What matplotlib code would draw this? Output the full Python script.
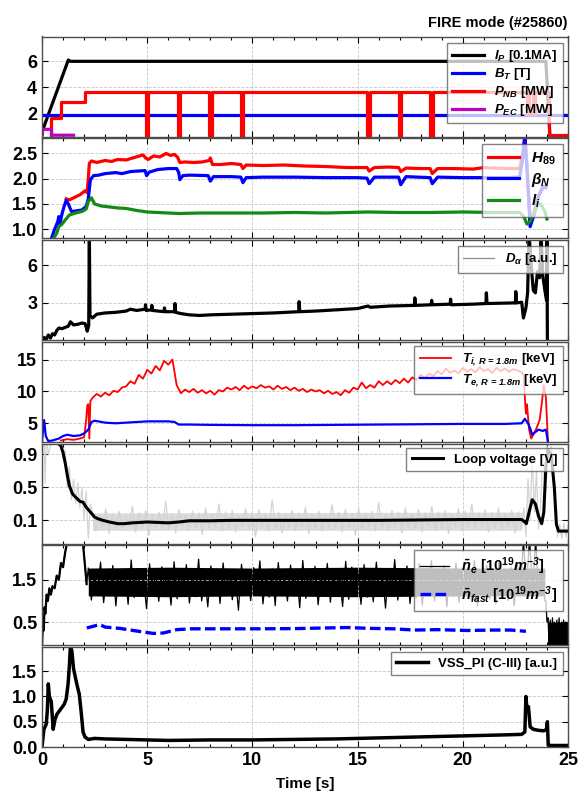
import numpy as np
import matplotlib
matplotlib.use("Agg")
import matplotlib.pyplot as plt
from matplotlib.lines import Line2D
from matplotlib.ticker import MultipleLocator, FormatStrFormatter

plt.rcParams["font.family"] = ["Liberation Sans", "DejaVu Sans"]
plt.rcParams["mathtext.fontset"] = "custom"
plt.rcParams["mathtext.rm"] = "Liberation Sans"
plt.rcParams["mathtext.it"] = "Liberation Sans:italic"
plt.rcParams["mathtext.bf"] = "Liberation Sans:bold"
plt.rcParams["mathtext.bfit"] = "Liberation Sans:italic:bold"

# ---- panel 1: plasma current, field, heating (time [s], value) ----
IP = [(0.0, 0.6), (1.25, 6.1), (1.35, 6.0), (5, 6.0), (10, 6.0), (15, 6.0),
      (20, 6.0), (23.95, 6.0), (24.05, 3.0), (24.15, 0.0)]
BT = [(0.0, 1.92), (25.0, 1.92)]
NB_T = [0.0, 0.44, 0.92, 2.04, 4.93, 5.05, 6.45, 6.57, 7.95, 8.07, 9.45, 9.57,
        15.45, 15.57, 16.95, 17.07, 18.45, 18.57, 23.05, 23.15, 23.35, 23.45,
        24.08, 25.0]
NB_V = [0.0, 1.65, 2.9, 3.62, 0.0, 3.62, 0.0, 3.62, 0.0, 3.62, 0.0, 3.62,
        0.0, 3.62, 0.0, 3.62, 0.0, 3.62, 2.0, 3.62, 2.0, 3.62, 0.35, 0.35]
EC = [(0.0, 0.35), (0.02, 0.35), (0.03, 0.8), (0.45, 0.8), (0.46, 0.35),
      (1.5, 0.35)]

# ---- panel 2: H89, beta_N, l_i ----
H89 = [(1.15, 1.6), (1.3, 1.58), (1.5, 1.62), (1.8, 1.68), (2.05, 1.76),
       (2.15, 1.72), (2.25, 2.3), (2.35, 2.35), (2.6, 2.32), (3.0, 2.36),
       (3.3, 2.34), (3.6, 2.38), (4.0, 2.37), (4.4, 2.42), (4.8, 2.47),
       (4.95, 2.4), (5.05, 2.38), (5.3, 2.45), (5.6, 2.43), (5.9, 2.5),
       (6.1, 2.46), (6.3, 2.48), (6.45, 2.42), (6.55, 2.32), (6.8, 2.33),
       (7.2, 2.32), (7.6, 2.33), (7.95, 2.36), (8.0, 2.41), (8.1, 2.28),
       (8.5, 2.28), (9.0, 2.3), (9.45, 2.28), (9.55, 2.2), (9.7, 2.27),
       (10.5, 2.26), (11.5, 2.27), (12.5, 2.25), (13.5, 2.24), (14.5, 2.22),
       (15.45, 2.22), (15.55, 2.15), (15.8, 2.22), (16.5, 2.23), (16.95, 2.22),
       (17.05, 2.14), (17.3, 2.21), (18.0, 2.2), (18.45, 2.2), (18.55, 2.1),
       (18.8, 2.2), (19.5, 2.2), (20.5, 2.19), (21.0, 2.22), (22.0, 2.2),
       (22.7, 2.2), (22.85, 2.5), (22.95, 2.85), (23.05, 2.3), (23.2, 1.15),
       (23.35, 1.3), (23.6, 1.65), (23.8, 1.8), (23.95, 1.85)]
BETA_N = [(0.45, 0.82), (0.6, 1.0), (0.75, 1.15), (0.8, 1.25), (0.85, 1.1),
          (0.95, 1.3), (1.05, 1.45), (1.15, 1.57), (1.25, 1.5), (1.4, 1.35),
          (1.6, 1.36), (1.9, 1.38), (2.1, 1.45), (2.2, 1.6), (2.3, 1.98),
          (2.45, 2.06), (2.7, 2.07), (3.0, 2.1), (3.5, 2.12), (3.8, 2.1),
          (4.2, 2.14), (4.9, 2.16), (4.97, 2.06), (5.1, 2.13), (5.5, 2.18),
          (6.0, 2.2), (6.4, 2.2), (6.5, 2.12), (6.55, 1.98), (6.7, 2.06),
          (7.0, 2.07), (7.9, 2.06), (8.0, 1.95), (8.15, 2.04), (9.0, 2.04),
          (9.45, 2.03), (9.55, 1.92), (9.7, 2.02), (10.5, 2.03), (12.0, 2.03),
          (13.5, 2.02), (15.0, 2.02), (15.45, 2.01), (15.55, 1.9), (15.8, 2.03),
          (16.95, 2.03), (17.05, 1.88), (17.3, 2.04), (18.45, 2.02),
          (18.55, 1.9), (18.8, 2.03), (20.0, 2.02), (22.0, 2.02), (22.7, 2.03),
          (22.85, 2.4), (22.95, 2.85), (23.05, 2.2), (23.2, 1.05), (23.4, 1.3),
          (23.6, 1.65), (23.8, 1.85), (23.95, 1.82)]
LI = [(0.55, 0.82), (0.7, 0.92), (0.8, 1.05), (0.95, 1.1), (1.1, 1.18),
      (1.3, 1.28), (1.6, 1.32), (1.9, 1.35), (2.1, 1.4), (2.2, 1.55),
      (2.35, 1.62), (2.5, 1.5), (2.8, 1.46), (3.2, 1.44), (3.6, 1.42),
      (4.0, 1.41), (4.5, 1.37), (5.0, 1.34), (5.5, 1.33), (6.5, 1.31),
      (7.5, 1.32), (9.0, 1.32), (10.5, 1.32), (12.0, 1.33), (13.5, 1.32),
      (15.5, 1.34), (17.0, 1.33), (18.5, 1.33), (20.0, 1.34), (21.5, 1.33),
      (22.7, 1.33), (22.9, 1.25), (23.05, 1.1), (23.2, 1.15), (23.5, 1.45),
      (23.7, 1.5), (23.9, 1.35), (24.0, 1.2)]

# ---- panel 3: D_alpha ----
DALPHA = [(0.0, 0.1), (0.1, 0.25), (0.18, 0.05), (0.3, 0.45), (0.4, 0.2),
          (0.5, 0.55), (0.6, 0.45), (0.7, 0.8), (0.8, 1.0), (0.95, 0.95),
          (1.1, 1.05), (1.25, 1.15), (1.35, 1.5), (1.5, 1.25), (1.7, 1.3),
          (1.9, 1.4), (2.05, 1.35), (2.15, 0.75), (2.22, 1.2), (2.25, 8.5),
          (2.28, 2.0), (2.4, 1.8), (2.6, 2.1), (3.0, 2.2), (3.5, 2.25),
          (4.0, 2.35), (4.2, 2.5), (4.5, 2.4), (4.9, 2.5), (4.92, 2.85),
          (4.95, 2.4), (5.2, 2.45), (5.22, 2.8), (5.25, 2.4), (5.8, 2.3),
          (5.82, 2.6), (5.85, 2.3), (6.3, 2.3), (6.32, 2.95), (6.35, 2.25),
          (6.6, 2.15), (7.0, 2.05), (7.5, 2.0), (8.0, 2.05), (9.0, 2.1),
          (10.0, 2.15), (11.0, 2.2), (12.2, 2.3), (12.22, 3.1), (12.25, 2.3),
          (13.0, 2.35), (14.0, 2.45), (15.0, 2.55), (15.5, 2.75), (15.6, 2.65),
          (16.5, 2.75), (17.7, 2.8), (17.72, 3.4), (17.75, 2.8), (18.5, 2.85),
          (18.52, 3.2), (18.55, 2.85), (19.4, 2.9), (19.42, 3.3), (19.45, 2.85),
          (20.5, 2.9), (21.1, 2.95), (21.12, 3.8), (21.15, 2.95), (22.5, 3.0),
          (22.52, 3.9), (22.55, 3.0), (22.8, 3.05), (22.88, 1.8), (23.0, 2.6),
          (23.08, 3.8), (23.15, 8.5), (23.25, 6.0), (23.35, 4.0), (23.45, 3.8),
          (23.55, 5.5), (23.65, 5.0), (23.72, 8.5), (23.8, 5.2), (23.9, 4.0),
          (23.98, 3.2), (24.0, 8.5), (24.02, 0.0)]

# ---- panel 4: ion / electron temperature ----
TI_PRE = [(0.9, 2.3), (1.2, 2.5), (1.5, 2.4), (1.8, 2.6), (2.0, 2.8),
          (2.1, 5.5), (2.15, 7.8), (2.2, 8.0), (2.25, 2.6), (2.3, 8.5)]
TI_MID = [9.0, 9.6, 9.2, 9.8, 9.4, 10.1, 9.9, 10.6, 10.8, 11.6,
          11.2, 12.6, 12.0, 13.4, 12.8, 14.0, 13.3, 14.8, 14.2, 15.0,
          11.0, 9.7, 10.3, 9.9, 10.4, 9.8, 10.2, 9.7, 10.1, 9.5,
          10.2, 10.0, 10.6, 10.3, 10.7, 10.2, 10.9, 10.4, 10.8, 10.5,
          11.0, 10.6, 10.8, 10.3, 10.9, 10.4, 10.7, 10.2, 10.6, 10.1,
          10.4, 9.9, 10.3, 10.0, 10.2, 9.7, 10.1, 9.6, 9.9, 9.4,
          10.2, 9.8, 10.6, 10.3, 11.4, 10.5, 11.0, 10.6, 11.6, 11.0,
          11.6, 11.1, 11.8, 11.3, 12.0, 11.4, 12.2, 11.8, 12.6, 12.1,
          12.8, 12.4, 13.2, 12.7, 13.6, 12.9, 13.3, 12.8, 13.7, 13.1,
          13.5, 13.0, 13.8, 13.2, 13.5, 12.9, 13.7, 13.2, 13.6, 13.1,
          13.5, 13.3, 13.0]
TI_END = [(22.9, 12.5), (22.95, 9.0), (23.0, 6.5), (23.05, 8.0), (23.15, 4.0),
          (23.25, 2.6), (23.35, 3.2), (23.5, 4.2), (23.65, 5.5), (23.75, 8.0),
          (23.85, 11.0), (23.95, 9.0), (24.05, 2.0)]
TE = [(0.0, 2.2), (0.1, 5.5), (0.18, 3.0), (0.3, 2.2), (0.5, 2.3), (0.8, 2.6),
      (1.0, 3.0), (1.2, 3.2), (1.5, 3.0), (1.8, 3.1), (2.0, 3.4), (2.2, 4.0),
      (2.35, 5.2), (2.5, 5.4), (3.0, 5.1), (3.5, 5.0), (4.0, 5.1), (4.5, 5.2),
      (5.0, 5.3), (6.0, 5.3), (6.3, 5.2), (6.5, 4.8), (7.0, 4.8), (8.0, 4.75),
      (10.0, 4.7), (12.0, 4.7), (14.0, 4.75), (16.0, 4.8), (18.0, 4.85),
      (20.0, 4.9), (22.0, 4.9), (22.8, 5.0), (22.95, 5.7), (23.1, 5.0),
      (23.2, 4.2), (23.3, 3.2), (23.4, 3.5), (23.6, 4.0), (23.8, 3.8),
      (23.95, 4.0), (24.05, 2.0)]

# ---- panel 5: loop voltage (smoothed and raw) ----
LV = [(0.0, 1.1), (0.5, 1.1), (0.9, 1.0), (1.0, 0.92), (1.1, 0.8), (1.2, 0.65),
      (1.3, 0.52), (1.45, 0.42), (1.6, 0.38), (1.8, 0.33), (1.95, 0.32),
      (2.1, 0.26), (2.3, 0.2), (2.5, 0.14), (2.65, 0.12), (2.9, 0.1),
      (3.2, 0.08), (3.6, 0.06), (3.9, 0.06), (4.3, 0.07), (5.0, 0.08),
      (6.0, 0.07), (6.5, 0.08), (7.0, 0.095), (8.0, 0.095), (9.0, 0.1),
      (12.0, 0.1), (16.0, 0.1), (18.0, 0.105), (20.0, 0.11), (22.8, 0.11),
      (22.95, 0.08), (23.02, 0.06), (23.15, 0.2), (23.3, 0.35), (23.45, 0.3),
      (23.6, 0.15), (23.75, 0.06), (23.85, 0.2), (23.95, 0.75), (24.05, 0.95),
      (24.2, 0.9), (24.35, 0.5), (24.45, 0.05), (24.55, -0.03), (25.0, -0.03)]
LV_RAW_PRE = [(0.0, 1.1), (0.1, 1.1), (0.15, 0.55), (0.2, 1.1), (0.3, 0.9),
              (0.5, 1.1), (0.7, 1.05), (0.9, 1.1), (1.0, 0.85), (1.1, 0.95),
              (1.2, 0.5), (1.3, 0.75), (1.4, 0.35), (1.5, 0.6), (1.6, 0.3),
              (1.7, 0.55), (1.8, 0.25), (1.9, 0.5), (2.0, 0.1), (2.1, 0.45),
              (2.2, -0.12), (2.3, 0.3)]
LV_RAW_MID = [0.2, -0.03, 0.16, 0.02, 0.24, -0.06, 0.18, 0.0, 0.21, -0.02,
              0.15, 0.03, 0.27, -0.04, 0.19, 0.01, 0.22, -0.08, 0.17, 0.02,
              0.2, -0.01, 0.33, 0.0, 0.18, -0.05, 0.23, 0.03, 0.16, -0.02,
              0.21, 0.01, 0.19, -0.07, 0.25, 0.0, 0.17, 0.02, 0.3, -0.03,
              0.2, 0.0, 0.22, -0.04, 0.16, 0.03, 0.24, -0.01, 0.19, -0.1,
              0.23, 0.02, 0.18, -0.03, 0.35, 0.0, 0.2, -0.05, 0.17, 0.01,
              0.22, -0.02, 0.19, 0.03, 0.26, -0.06, 0.18, 0.0, 0.21, -0.03,
              0.16, 0.02, 0.29, -0.01, 0.2, -0.04, 0.23, 0.01, 0.18, -0.08,
              0.24, 0.0, 0.19, 0.03, 0.21, -0.03, 0.32, 0.0, 0.17, -0.02,
              0.22, 0.02, 0.2, -0.05, 0.25, 0.01, 0.18, -0.01, 0.23, -0.04,
              0.19, 0.03, 0.27, -0.02, 0.2, 0.0, 0.22, -0.06, 0.18, 0.02,
              0.24, -0.03, 0.21, 0.01, 0.3, -0.01, 0.19, 0.02, 0.23, -0.04,
              0.2, 0.0, 0.25, -0.02, 0.18, 0.03, 0.22, -0.05, 0.2, 0.01]
LV_RAW_END = [(22.9, 0.25), (23.0, -0.1), (23.1, 0.6), (23.2, 0.1), (23.3, 0.9),
              (23.4, 0.2), (23.5, 0.7), (23.6, 0.0), (23.7, 0.3), (23.8, 0.9),
              (23.9, 0.5), (24.0, 1.0), (24.1, 0.8), (24.2, 1.0), (24.3, 0.6),
              (24.4, 0.2), (24.5, -0.1), (24.6, 0.05), (24.7, -0.12),
              (24.8, 0.06), (24.9, -0.1), (25.0, 0.04)]

# ---- panel 6: line-averaged density and fast-ion density ----
NE_PRE = [(0.0, -0.05), (0.05, 0.55), (0.08, 0.3), (0.12, 0.85), (0.16, 0.7),
          (0.22, 1.15), (0.28, 1.0), (0.35, 1.3), (0.42, 1.15), (0.5, 1.35),
          (0.6, 1.3), (0.7, 1.6), (0.8, 1.5), (0.9, 1.9), (1.0, 1.8),
          (1.1, 2.15), (1.2, 2.4), (1.4, 2.5), (1.6, 2.45), (1.8, 2.5),
          (1.95, 2.35), (2.05, 1.8), (2.12, 1.4)]
NE_MID = [1.78, 1.02, 1.65, 1.21, 1.92, 0.96, 1.58, 1.12, 1.84, 0.88,
          1.7, 1.25, 1.62, 0.92, 1.97, 1.08, 1.74, 1.18, 1.55, 0.82,
          1.88, 1.15, 1.69, 0.99, 1.81, 1.27, 1.6, 0.9, 1.93, 1.05,
          1.72, 1.2, 1.86, 0.95, 1.64, 1.1, 1.99, 1.0, 1.57, 0.86,
          1.83, 1.22, 1.68, 0.94, 1.9, 1.13, 1.75, 1.03, 1.61, 0.78,
          1.87, 1.17, 1.66, 1.01, 1.79, 1.24, 1.95, 0.93, 1.63, 1.09,
          1.76, 0.89, 1.91, 1.14, 1.59, 1.0, 1.85, 1.19, 1.71, 0.84,
          1.96, 1.06, 1.67, 1.23, 1.82, 0.91, 1.6, 1.11, 1.89, 0.97,
          1.73, 1.16, 1.58, 0.87, 1.94, 1.04, 1.8, 1.21, 1.66, 0.92,
          1.86, 1.09, 1.7, 0.98, 1.92, 1.18, 1.62, 0.83, 1.77, 1.12,
          1.98, 1.02, 1.64, 1.26, 1.83, 0.94, 1.69, 1.07, 1.88, 0.9,
          1.74, 1.15, 1.95, 1.0, 1.61, 1.2, 1.84, 0.86, 1.72, 1.1,
          1.9, 0.96, 1.67, 1.13, 1.8, 1.03, 1.97, 0.88, 1.63, 1.19,
          1.85, 1.05, 1.71, 0.93, 1.93, 1.16, 1.6, 1.01, 1.79, 0.89,
          1.87, 1.12, 2.45, 1.3, 2.5, 1.2, 2.45, 1.1, 1.75, 1.0]
NE_CORE_T = [2.2, 6.0, 10.0, 15.0, 20.0, 23.9]
NE_CORE_LO = [1.12, 1.1, 1.12, 1.1, 1.12, 1.12]
NE_CORE_HI = [1.78, 1.8, 1.78, 1.8, 1.78, 1.78]
NE_TAIL = [0.6, -0.05, 0.55, 0.1, 0.6, -0.05, 0.5, 0.15, 0.55, -0.05,
           0.6, 0.1, 0.5, -0.05, 0.55, 0.15, 0.5, -0.05, 0.45]
NFAST = [(2.13, 0.36), (2.75, 0.44), (3.0, 0.38), (3.7, 0.35), (4.6, 0.28),
         (5.3, 0.23), (5.76, 0.24), (6.4, 0.32), (7.1, 0.34), (8.5, 0.34),
         (10.3, 0.34), (12.1, 0.345), (13.5, 0.36), (14.5, 0.37), (15.6, 0.35),
         (16.7, 0.34), (17.7, 0.31), (18.8, 0.32), (20.2, 0.30), (21.5, 0.31),
         (22.3, 0.31), (23.0, 0.28)]

# ---- panel 7: C-III line emission ----
VSS = [(0.0, 0.0), (0.09, 0.35), (0.2, 0.45), (0.25, 0.7), (0.3, 1.25),
       (0.35, 1.0), (0.44, 0.9), (0.53, 0.35), (0.62, 0.55), (0.71, 0.65),
       (0.89, 0.75), (1.06, 0.85), (1.15, 0.95), (1.24, 1.25), (1.3, 1.6),
       (1.35, 2.0), (1.42, 1.9), (1.5, 1.55), (1.6, 1.35), (1.68, 1.2),
       (1.77, 1.05), (1.86, 0.7), (1.95, 0.3), (2.04, 0.2), (2.2, 0.15),
       (2.5, 0.17), (3.0, 0.16), (4.0, 0.15), (5.0, 0.14), (6.0, 0.13),
       (8.0, 0.14), (10.0, 0.14), (12.0, 0.15), (14.0, 0.16), (16.0, 0.18),
       (18.0, 0.2), (20.0, 0.22), (22.0, 0.24), (22.8, 0.25), (22.95, 0.3),
       (23.0, 1.0), (23.05, 0.75), (23.12, 0.8), (23.2, 0.4), (23.35, 0.35),
       (23.6, 0.33), (23.85, 0.32), (23.98, 0.35), (24.02, 0.5), (24.06, 0.04),
       (24.2, 0.03), (25.0, 0.03)]

YTICKS = [[2, 4, 6], [1.0, 1.5, 2.0, 2.5], [3, 6], [5, 10, 15],
          [0.1, 0.5, 0.9], [0.5, 1.5], [0.0, 0.5, 1.0, 1.5]]
YLIMS = [(0.25, 7.9), (0.82, 2.8), (0.05, 8.0), (2.1, 17.8),
         (-0.18, 1.03), (-0.05, 2.32), (0.0, 1.98)]


def xy(points):
    arr = np.array(points, dtype=float)
    return arr[:, 0], arr[:, 1]


def make_legend(ax, top, size=9.5, **kw):
    leg = ax.legend(loc="upper right", bbox_to_anchor=(0.99, top),
                    borderaxespad=0, fancybox=False, framealpha=0.75,
                    edgecolor="0.35", prop={"size": size, "weight": "bold"},
                    **kw)
    leg.get_frame().set_linewidth(1.0)
    return leg


fig = plt.figure(figsize=(5.82, 7.93), dpi=100)
axes = []
for i in range(7):
    top_px = 36.5 + i * 101.75
    ax = fig.add_axes([42 / 582, 1 - (top_px + 100) / 793, 526 / 582, 100 / 793])
    axes.append(ax)

red, blue, green = "#ff0000", "#0000ff", "#138a13"

# panel 1
ax = axes[0]
ax.plot(*xy(IP), color="k", lw=2.3, label=r"$\mathbfit{I_P}$ [0.1MA]")
ax.plot(*xy(BT), color=blue, lw=2.3, label=r"$\mathbfit{B_T}$ [T]")
ax.plot(NB_T, NB_V, color=red, lw=2.3, drawstyle="steps-post",
        label=r"$\mathbfit{P_{NB}}$ [MW]")
ax.plot(*xy(EC), color="#bf00bf", lw=2.3, label=r"$\mathbfit{P_{EC}}$ [MW]")
ax.set_title("FIRE mode (#25860)", loc="right", fontsize=10.5,
             fontweight="bold", pad=7)
make_legend(ax, 0.935, size=9.5, handlelength=2.4, labelspacing=0.15)

# panel 2
ax = axes[1]
ax.plot(*xy(H89), color=red, lw=2.3, label=r"$\mathbfit{H}_{\mathbf{89}}$")
ax.plot(*xy(BETA_N), color=blue, lw=2.3, label=r"$\mathbfit{\beta_N}$")
ax.plot(*xy(LI), color=green, lw=2.3, label=r"$\mathbfit{l_i}$")
make_legend(ax, 0.945, size=11, handlelength=2.0, labelspacing=0.25,
            borderpad=0.45)

# panel 3
ax = axes[2]
ax.plot(*xy(DALPHA), color="k", lw=2.3)
make_legend(ax, 0.94, size=9.5, handlelength=2.4,
            handles=[Line2D([], [], color="0.55", lw=0.9)],
            labels=[r"$\mathbfit{D_\alpha}$ [a.u.]"])

# panel 4
ax = axes[3]
ti_pre_t, ti_pre_v = xy(TI_PRE)
ti_end_t, ti_end_v = xy(TI_END)
ti_t = np.concatenate([ti_pre_t, np.linspace(2.4, 22.8, len(TI_MID)), ti_end_t])
ti_v = np.concatenate([ti_pre_v, TI_MID, ti_end_v])
ax.plot(ti_t, ti_v, color=red, lw=1.3,
        label=r"$\mathbfit{T_{i,\,R\,=\,1.8m}}$ [keV]")
ax.plot(*xy(TE), color=blue, lw=1.6,
        label=r"$\mathbfit{T_{e,\,R\,=\,1.8m}}$ [keV]")
make_legend(ax, 0.958, size=9.5, handlelength=2.4, labelspacing=0.3)

# panel 5
ax = axes[4]
pre_t, pre_v = xy(LV_RAW_PRE)
end_t, end_v = xy(LV_RAW_END)
raw_t = np.concatenate([pre_t, np.linspace(2.4, 22.8, len(LV_RAW_MID)), end_t])
raw_v = np.concatenate([pre_v, LV_RAW_MID, end_v])
ax.fill_between([2.4, 22.8], [-0.02, -0.02], [0.19, 0.2], color="#dcdcdc", lw=0)
ax.plot(raw_t, raw_v, color="#d3d3d3", lw=0.9)
ax.plot(*xy(LV), color="k", lw=2.2, label="Loop voltage [V]")
make_legend(ax, 0.955, size=9.5, handlelength=2.4)

# panel 6
ax = axes[5]
pre_t, pre_v = xy(NE_PRE)
ax.plot(pre_t, pre_v, color="k", lw=1.6)
ne_t = np.concatenate([pre_t, np.linspace(2.2, 23.9, len(NE_MID)),
                       [23.95, 24.0], np.linspace(24.05, 25.0, len(NE_TAIL))])
ne_v = np.concatenate([pre_v, NE_MID, [1.0, 0.5], NE_TAIL])
ax.fill_between(NE_CORE_T, NE_CORE_LO, NE_CORE_HI, color="k", lw=0)
ax.fill_between([24.05, 25.0], [-0.05, -0.05], [0.5, 0.5], color="k", lw=0)
ax.plot(ne_t, ne_v, color="k", lw=0.9,
        label=r"$\mathbfit{\bar{n}_e}\ \mathbf{[10^{19}}\mathbfit{m^{-3}}\mathbf{]}$")
ax.plot(*xy(NFAST), color=blue, lw=2.4, dashes=(3.2, 1.3),
        label=r"$\mathbfit{\bar{n}_{fast}}\ \mathbf{[10^{19}}\mathbfit{m^{-3}}\mathbf{]}$")
make_legend(ax, 0.953, size=10.5, handlelength=2.0, labelspacing=0.45)

# panel 7
ax = axes[6]
ax.plot(*xy(VSS), color="k", lw=2.5, label="VSS_PI (C-III) [a.u.]")
make_legend(ax, 0.95, size=9.5, handlelength=2.4)

for i, ax in enumerate(axes):
    ax.set_xlim(0, 25)
    ax.set_ylim(*YLIMS[i])
    ax.set_yticks(YTICKS[i])
    ax.set_xticks([0, 5, 10, 15, 20, 25])
    ax.xaxis.set_minor_locator(MultipleLocator(1))
    ax.grid(True, which="major", ls="--", lw=0.6, color="#c8c8c8")
    ax.tick_params(which="both", direction="in", top=True, right=True,
                   labelsize=13, labelbottom=(i == 6), width=0.8)
    ax.tick_params(which="major", length=4)
    ax.tick_params(which="minor", length=2)
    for spine in ax.spines.values():
        spine.set_color("0.3")
        spine.set_linewidth(1.0)
    for lab in ax.get_yticklabels() + ax.get_xticklabels():
        lab.set_fontweight("bold")

axes[6].yaxis.set_major_formatter(FormatStrFormatter("%.1f"))
for lab in axes[6].get_yticklabels():
    lab.set_fontweight("bold")

fig.text((42 + 263) / 582, 0.002, "Time [s]", ha="center", va="bottom",
         fontsize=11, fontweight="bold")

fig.savefig("out.png", dpi=100)
